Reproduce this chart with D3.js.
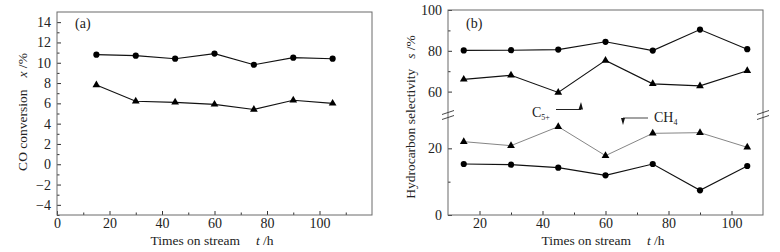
<!DOCTYPE html>
<html>
<head>
<meta charset="utf-8">
<script src="https://cdn.jsdelivr.net/npm/d3@7"></script>
<style>
  body { margin: 0; background: #fff; }
  svg text { font-family: "Liberation Serif", "Times New Roman", serif; fill: #222; }
</style>
</head>
<body>
<div id="chart"></div>
<script>
let w = 780;
let h = 252;

// time on stream, h
let hours = [15, 30, 45, 60, 75, 90, 105];

// (a) CO conversion, %
let convCircle = [10.8, 10.7, 10.4, 10.9, 9.8, 10.5, 10.4];
let convTriangle = [7.8, 6.2, 6.1, 5.9, 5.4, 6.3, 6.0];

// (b) hydrocarbon selectivity, %
let c5Circle = [80.2, 80.3, 80.6, 84.4, 80.1, 90.4, 80.8];
let c5Triangle = [66.0, 68.0, 59.6, 75.3, 63.8, 62.8, 70.2];
let ch4Triangle = [22.0, 20.8, 26.5, 17.8, 24.5, 24.7, 20.3];
let ch4Circle = [15.3, 15.1, 14.2, 11.9, 15.3, 7.4, 14.7];

let xTicksA = [0, 20, 40, 60, 80, 100];
let xMinorA = [10, 30, 50, 70, 90, 110];
let yTicksA = [-4, -2, 0, 2, 4, 6, 8, 10, 12, 14];
let yMinorA = [-5, -3, -1, 1, 3, 5, 7, 9, 11, 13];

let xTicksB = [20, 40, 60, 80, 100];
let xMinorB = [30, 50, 70, 90];
let yTicksUpper = [60, 80, 100];
let yMinorUpper = [70, 90];
let yTicksLower = [0, 20];
let yMinorLower = [10];

let frameColor = '#6a6a6a';

let svg = d3.select('#chart')
    .append('svg')
    .attr('width', w)
    .attr('height', h);

const addAxis = (g, axisFn, scale, ticks, minor, transform, pad) => {
    g.append('g')
        .attr('transform', transform)
        .call(axisFn(scale).tickValues(ticks).tickSize(-4).tickPadding(pad)
            .tickFormat(d3.format('d')))
        .call(a => a.select('.domain').remove());
    g.append('g')
        .attr('transform', transform)
        .call(axisFn(scale).tickValues(minor).tickSize(-2.5).tickFormat(''))
        .call(a => a.select('.domain').remove());
};

const styleAxes = () => {
    svg.selectAll('.tick line').attr('stroke', '#333');
    svg.selectAll('.tick text')
        .style('font-size', '14px')
        .style('font-family', '"Liberation Serif", serif')
        .attr('fill', '#222');
    svg.selectAll('.tick text').each(function() {
        let t = d3.select(this);
        let v = t.text();
        if (v.startsWith('-') || v.startsWith('\u2212')) t.text('\u2212' + v.replace(/^[-\u2212]/, ''));
    });
};

const drawSeries = (g, xs, ys, x, y, shape, color, width) => {
    let pts = xs.map((d, i) => [d, ys[i]]);
    g.append('path')
        .datum(pts)
        .attr('d', d3.line().x(d => x(d[0])).y(d => y(d[1])))
        .attr('fill', 'none')
        .attr('stroke', color)
        .attr('stroke-width', width);
    g.selectAll(null)
        .data(pts)
        .enter()
        .append('path')
        .attr('transform', d => 'translate(' + x(d[0]) + ',' + y(d[1]) + ')')
        .attr('d', d3.symbol().type(shape === 'circle' ? d3.symbolCircle : d3.symbolTriangle)
            .size(shape === 'circle' ? 30 : 26))
        .attr('fill', '#000');
};

// ---------- panel (a) ----------
let A = {left: 57, right: 372, top: 12, bottom: 215};
let gA = svg.append('g');

let xA = d3.scaleLinear().domain([0, 120]).range([A.left, A.right]);
let yA = d3.scaleLinear().domain([-5, 15]).range([A.bottom, A.top]);

addAxis(gA, d3.axisBottom, xA, xTicksA, xMinorA, 'translate(0,' + A.bottom + ')', 3);
addAxis(gA, d3.axisLeft, yA, yTicksA, yMinorA, 'translate(' + A.left + ',0)', 6);

gA.append('rect')
    .attr('x', A.left).attr('y', A.top)
    .attr('width', A.right - A.left).attr('height', A.bottom - A.top)
    .attr('fill', 'none').attr('stroke', frameColor).attr('stroke-width', 1);

drawSeries(gA, hours, convCircle, xA, yA, 'circle', '#111', 1.1);
drawSeries(gA, hours, convTriangle, xA, yA, 'triangle', '#111', 1.1);

gA.append('text').attr('x', 75).attr('y', 28).style('font-size', '14px').text('(a)');

let xlabA = gA.append('text')
    .attr('x', 212).attr('y', 245)
    .attr('text-anchor', 'middle')
    .style('font-size', '13.5px');
xlabA.append('tspan').text('Times on stream');
xlabA.append('tspan').attr('dx', 16).style('font-style', 'italic').text('t');
xlabA.append('tspan').text(' /h');

let ylabA = gA.append('text')
    .attr('transform', 'translate(27,112) rotate(-90)')
    .attr('text-anchor', 'middle')
    .style('font-size', '13.5px');
ylabA.append('tspan').text('CO conversion');
ylabA.append('tspan').attr('dx', 12).style('font-style', 'italic').text('x');
ylabA.append('tspan').text(' /%');

// ---------- panel (b) ----------
let B = {left: 448, right: 763, top: 10, bottom: 215, breakTop: 112, breakBottom: 115};
let gB = svg.append('g');

let xB = d3.scaleLinear().domain([10, 110]).range([B.left, B.right]);
let yUpper = d3.scaleLinear().domain([50, 100]).range([B.breakTop, B.top]);
let yLower = d3.scaleLinear().domain([0, 30]).range([B.bottom, B.breakBottom]);

addAxis(gB, d3.axisBottom, xB, xTicksB, xMinorB, 'translate(0,' + B.bottom + ')', 3);
addAxis(gB, d3.axisLeft, yUpper, yTicksUpper, yMinorUpper, 'translate(' + B.left + ',0)', 6);
addAxis(gB, d3.axisLeft, yLower, yTicksLower, yMinorLower, 'translate(' + B.left + ',0)', 6);

gB.append('rect')
    .attr('x', B.left).attr('y', B.top)
    .attr('width', B.right - B.left).attr('height', B.bottom - B.top)
    .attr('fill', 'none').attr('stroke', frameColor).attr('stroke-width', 1);

// axis break marks
[B.left, B.right].forEach(bx => {
    [-2.5, 2.5].forEach(off => {
        gB.append('line')
            .attr('x1', bx - 6).attr('y1', 115 + off + 2)
            .attr('x2', bx + 6).attr('y2', 115 + off - 2)
            .attr('stroke', '#333').attr('stroke-width', 0.9);
    });
});

drawSeries(gB, hours, c5Circle, xB, yUpper, 'circle', '#111', 1.1);
drawSeries(gB, hours, c5Triangle, xB, yUpper, 'triangle', '#111', 1.1);
drawSeries(gB, hours, ch4Triangle, xB, yLower, 'triangle', '#666', 0.8);
drawSeries(gB, hours, ch4Circle, xB, yLower, 'circle', '#111', 1.1);

gB.append('text').attr('x', 466).attr('y', 28).style('font-size', '14px').text('(b)');

// series annotations
let c5Label = gB.append('text').attr('x', 532).attr('y', 117).style('font-size', '14px');
c5Label.append('tspan').text('C');
c5Label.append('tspan').attr('dy', 3).style('font-size', '8px').text('5+');
gB.append('line').attr('x1', 556).attr('y1', 109.5).attr('x2', 581).attr('y2', 109.5)
    .attr('stroke', '#222').attr('stroke-width', 1);
gB.append('path').attr('d', 'M578.5,109.5 L581,102 L583,109.5 Z').attr('fill', '#111');

let ch4Label = gB.append('text').attr('x', 654).attr('y', 122).style('font-size', '14px');
ch4Label.append('tspan').text('CH');
ch4Label.append('tspan').attr('dy', 3).style('font-size', '8px').text('4');
gB.append('line').attr('x1', 623).attr('y1', 118).attr('x2', 648).attr('y2', 118)
    .attr('stroke', '#666').attr('stroke-width', 1.2);
gB.append('path').attr('d', 'M621,118 L623,125 L625,118 Z').attr('fill', '#111');

let xlabB = gB.append('text')
    .attr('x', 603).attr('y', 245)
    .attr('text-anchor', 'middle')
    .style('font-size', '13.5px');
xlabB.append('tspan').text('Times on stream');
xlabB.append('tspan').attr('dx', 16).style('font-style', 'italic').text('t');
xlabB.append('tspan').text(' /h');

let ylabB = gB.append('text')
    .attr('transform', 'translate(415,117) rotate(-90)')
    .attr('text-anchor', 'middle')
    .style('font-size', '13.5px');
ylabB.append('tspan').text('Hydrocarbon selectivity');
ylabB.append('tspan').attr('dx', 10).style('font-style', 'italic').text('s');
ylabB.append('tspan').text(' /%');

styleAxes();
</script>
</body>
</html>
